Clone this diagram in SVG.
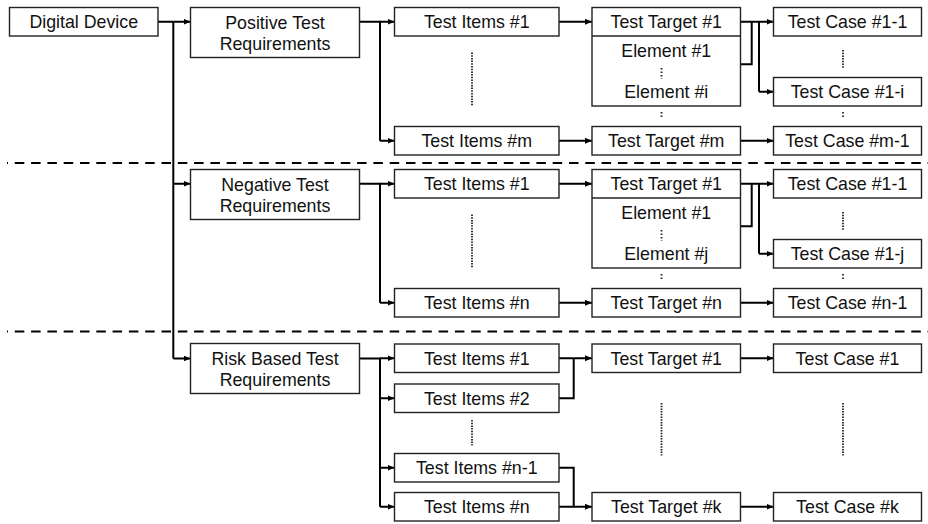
<svg xmlns="http://www.w3.org/2000/svg" width="928" height="524" viewBox="0 0 928 524">
<defs>
<marker id="ah" markerWidth="8" markerHeight="7" refX="7" refY="3" orient="auto" markerUnits="userSpaceOnUse"><path d="M0,0 L7,3 L0,6 z" fill="#000"/></marker>
<style>
.box{fill:#fff;stroke:#222;stroke-width:1.4}
.t{font-family:"Liberation Sans",Arial,sans-serif;font-size:17.8px;fill:#111;text-anchor:middle}
.c{fill:none;stroke:#000;stroke-width:2}
.a{fill:none;stroke:#000;stroke-width:2;marker-end:url(#ah)}
.dot{fill:none;stroke:#222;stroke-width:1.8;stroke-dasharray:1.5 1.2}
.mini{fill:none;stroke:#222;stroke-width:1.8;stroke-dasharray:1.5 2}
.dash{fill:none;stroke:#000;stroke-width:2.2;stroke-dasharray:9.5 6.8;stroke-dashoffset:8.5}
</style>
</defs>
<rect width="928" height="524" fill="#fff"/>

<g id="separators">
<line class="dash" x1="7" y1="163" x2="928" y2="163"/>
<line class="dash" x1="7" y1="331.5" x2="928" y2="331.5"/>
</g>

<g id="connectors">
<path class="c" d="M158,21.75 H173.3 M173.3,21.75 V358.5"/>
<path class="a" d="M173.3,21.75 H190.5"/>
<path class="a" d="M173.3,183.75 H190.5"/>
<path class="a" d="M173.3,358.5 H190.5"/>
<path class="c" d="M359.5,21.75 H380 V140.75"/>
<path class="a" d="M380,21.75 H394.5"/>
<path class="a" d="M380,140.75 H394.5"/>
<path class="a" d="M559,21.75 H592"/>
<path class="a" d="M559,140.75 H592"/>
<path class="a" d="M740.5,21.75 H773.5"/>
<path class="a" d="M740.5,140.75 H773.5"/>
<path class="c" d="M740.5,64.3 H751.7 V21.75"/>
<path class="c" d="M759,21.75 V91.75"/>
<path class="a" d="M759,91.75 H773.5"/>
<path class="c" d="M359.5,183.75 H380 V302.75"/>
<path class="a" d="M380,183.75 H394.5"/>
<path class="a" d="M380,302.75 H394.5"/>
<path class="a" d="M559,183.75 H592"/>
<path class="a" d="M559,302.75 H592"/>
<path class="a" d="M740.5,183.75 H773.5"/>
<path class="a" d="M740.5,302.75 H773.5"/>
<path class="c" d="M740.5,226.3 H751.7 V183.75"/>
<path class="c" d="M759,183.75 V253.75"/>
<path class="a" d="M759,253.75 H773.5"/>
<path class="c" d="M359.5,358.5 H380 V506.75"/>
<path class="a" d="M380,358.25 H394.5"/>
<path class="a" d="M380,398.25 H394.5"/>
<path class="a" d="M380,467.75 H394.5"/>
<path class="a" d="M380,506.75 H394.5"/>
<path class="c" d="M559,358.25 H573.7 M559,398.25 H573.7 V358.25"/>
<path class="a" d="M573.7,358.25 H592"/>
<path class="c" d="M559,467.75 H573.7 V506.75"/>
<path class="a" d="M559,506.75 H592"/>
<path class="a" d="M740.5,358.25 H773.5"/>
<path class="a" d="M740.5,506.75 H773.5"/>
</g>

<g id="digital-device"><rect class="box" x="9.5" y="7.5" width="148.5" height="28.5"/><text class="t" x="83.75" y="28">Digital Device</text></g>

<g id="positive-req"><rect class="box" x="190.5" y="7.5" width="169" height="50"/><text class="t" x="275" y="29.3">Positive Test</text><text class="t" x="275" y="50">Requirements</text></g>
<g id="p-items-1"><rect class="box" x="394.5" y="7.5" width="164.5" height="28.5"/><text class="t" x="476.75" y="28">Test Items #1</text></g>
<g id="p-items-m"><rect class="box" x="394.5" y="126.5" width="164.5" height="28.5"/><text class="t" x="476.75" y="147">Test Items #m</text></g>
<g id="p-target-1"><rect class="box" x="592" y="7.5" width="148.5" height="98.5"/><line x1="592" y1="36" x2="740.5" y2="36" stroke="#222" stroke-width="1.4"/><text class="t" x="666.25" y="28">Test Target #1</text><text class="t" x="666.25" y="56.7">Element #1</text><text class="t" x="666.25" y="97.8">Element #i</text></g>
<g id="p-target-m"><rect class="box" x="592" y="126.5" width="148.5" height="28.5"/><text class="t" x="666.25" y="147">Test Target #m</text></g>
<g id="p-case-1-1"><rect class="box" x="773.5" y="7.5" width="148" height="28.5"/><text class="t" x="847.5" y="28">Test Case #1-1</text></g>
<g id="p-case-1-i"><rect class="box" x="773.5" y="77.5" width="148" height="28.5"/><text class="t" x="847.5" y="98">Test Case #1-i</text></g>
<g id="p-case-m-1"><rect class="box" x="773.5" y="126.5" width="148" height="28.5"/><text class="t" x="847.5" y="147">Test Case #m-1</text></g>

<g id="negative-req"><rect class="box" x="190.5" y="169.5" width="169" height="50"/><text class="t" x="275" y="191.3">Negative Test</text><text class="t" x="275" y="212">Requirements</text></g>
<g id="n-items-1"><rect class="box" x="394.5" y="169.5" width="164.5" height="28.5"/><text class="t" x="476.75" y="190">Test Items #1</text></g>
<g id="n-items-n"><rect class="box" x="394.5" y="288.5" width="164.5" height="28.5"/><text class="t" x="476.75" y="309">Test Items #n</text></g>
<g id="n-target-1"><rect class="box" x="592" y="169.5" width="148.5" height="98.5"/><line x1="592" y1="198" x2="740.5" y2="198" stroke="#222" stroke-width="1.4"/><text class="t" x="666.25" y="218.7">Element #1</text><text class="t" x="666.25" y="190">Test Target #1</text><text class="t" x="666.25" y="259.8">Element #j</text></g>
<g id="n-target-n"><rect class="box" x="592" y="288.5" width="148.5" height="28.5"/><text class="t" x="666.25" y="309">Test Target #n</text></g>
<g id="n-case-1-1"><rect class="box" x="773.5" y="169.5" width="148" height="28.5"/><text class="t" x="847.5" y="190">Test Case #1-1</text></g>
<g id="n-case-1-j"><rect class="box" x="773.5" y="239.5" width="148" height="28.5"/><text class="t" x="847.5" y="260">Test Case #1-j</text></g>
<g id="n-case-n-1"><rect class="box" x="773.5" y="288.5" width="148" height="28.5"/><text class="t" x="847.5" y="309">Test Case #n-1</text></g>

<g id="risk-req"><rect class="box" x="190.5" y="343.5" width="169" height="50"/><text class="t" x="275" y="365.3">Risk Based Test</text><text class="t" x="275" y="386">Requirements</text></g>
<g id="r-items-1"><rect class="box" x="394.5" y="344" width="164.5" height="28.5"/><text class="t" x="476.75" y="364.5">Test Items #1</text></g>
<g id="r-items-2"><rect class="box" x="394.5" y="384" width="164.5" height="28.5"/><text class="t" x="476.75" y="404.5">Test Items #2</text></g>
<g id="r-items-n-1"><rect class="box" x="394.5" y="453.5" width="164.5" height="28.5"/><text class="t" x="476.75" y="474">Test Items #n-1</text></g>
<g id="r-items-n"><rect class="box" x="394.5" y="492.5" width="164.5" height="28.5"/><text class="t" x="476.75" y="513">Test Items #n</text></g>
<g id="r-target-1"><rect class="box" x="592" y="344" width="148.5" height="28.5"/><text class="t" x="666.25" y="364.5">Test Target #1</text></g>
<g id="r-target-k"><rect class="box" x="592" y="492.5" width="148.5" height="28.5"/><text class="t" x="666.25" y="513">Test Target #k</text></g>
<g id="r-case-1"><rect class="box" x="773.5" y="344" width="148" height="28.5"/><text class="t" x="847.5" y="364.5">Test Case #1</text></g>
<g id="r-case-k"><rect class="box" x="773.5" y="492.5" width="148" height="28.5"/><text class="t" x="847.5" y="513">Test Case #k</text></g>

<g id="ellipses">
<line class="dot" x1="472" y1="52.5" x2="472" y2="106"/>
<line class="dot" x1="843" y1="50" x2="843" y2="68.5"/>
<line class="mini" x1="661.5" y1="68" x2="661.5" y2="79"/>
<line class="mini" x1="661.5" y1="112" x2="661.5" y2="118"/>
<line class="mini" x1="843" y1="112" x2="843" y2="118"/>
<line class="dot" x1="472" y1="214.5" x2="472" y2="268"/>
<line class="dot" x1="843" y1="212" x2="843" y2="230.5"/>
<line class="mini" x1="661.5" y1="230" x2="661.5" y2="241"/>
<line class="mini" x1="661.5" y1="274" x2="661.5" y2="280"/>
<line class="mini" x1="843" y1="274" x2="843" y2="280"/>
<line class="dot" x1="472" y1="420" x2="472" y2="445.5"/>
<line class="dot" x1="661.5" y1="403" x2="661.5" y2="455.5"/>
<line class="dot" x1="843" y1="403" x2="843" y2="455.5"/>
</g>
</svg>
